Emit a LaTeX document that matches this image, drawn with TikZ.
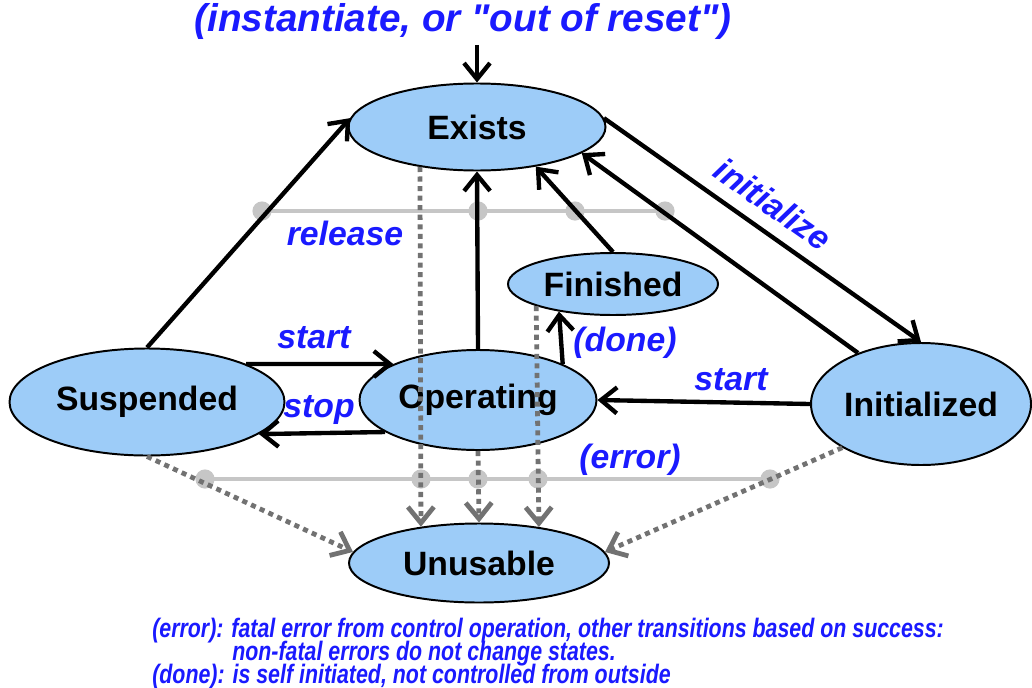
\documentclass[tikz,border=0pt]{standalone}
\usepackage{fontspec}
\setmainfont{Liberation Sans}
\newfontfamily\titlefont[Ligatures=TeXOff]{Liberation Sans}
\newfontfamily\notefont[FakeStretch=0.8]{Liberation Sans}
\newcommand\notestyle{\notefont\fontsize{19}{16.2}\selectfont\lineskiplimit=-20pt\relax\bfseries\itshape}
\usepackage{tikz}
\usetikzlibrary{arrows.meta}
\usetikzlibrary{shapes.geometric}
\definecolor{state-blue}{HTML}{9DCCF8}
\definecolor{label-blue}{HTML}{1A1AFF}
\definecolor{error-grey}{HTML}{727272}
\definecolor{bar-grey}{HTML}{C6C6C6}

\begin{document}
\begin{tikzpicture}[x=0.25mm, y=-0.25mm,
    state/.style={ellipse, draw, line width=1.4pt, fill=state-blue, inner sep=0pt,
                  font=\fontsize{24}{28}\selectfont\bfseries},
    trans/.style={-{Straight Barb[length=4mm, width=6.5mm]}, line width=3.1pt},
    errtrans/.style={-{Straight Barb[length=4mm, width=6.5mm]}, color=error-grey,
                     line width=3.4pt, dash pattern=on 3.6pt off 3.2pt},
    bar/.style={color=bar-grey, line width=3.4pt},
    lbl/.style={color=label-blue, font=\fontsize{24}{28}\selectfont\bfseries\itshape}]

    \useasboundingbox (0,0) rectangle (1032,687);

    % grouping bars
    \draw[bar] (262,211) -- (667,211);
    \foreach \x in {262,478,575,665}
        \fill[bar-grey] (\x,211) circle[radius=2.4mm];
    \draw[bar] (205,479) -- (770,479);
    \foreach \x in {205,421,478,538,770}
        \fill[bar-grey] (\x,479) circle[radius=2.4mm];

    % states
    \node[state, minimum width=64.25mm, minimum height=21.75mm] (exists) at (477,127) {Exists};
    \node[state, minimum width=52.5mm, minimum height=15.5mm] (finished) at (613,284) {Finished};
    \node[state, minimum width=68.75mm, minimum height=26.75mm] (suspended) at (147,402) {Suspended};
    \node[state, minimum width=59.25mm, minimum height=25mm] (operating) at (478,400) {Operating};
    \node[state, minimum width=55mm, minimum height=30.5mm] (initialized) at (921,404) {Initialized};
    \node[state, minimum width=65mm, minimum height=19.75mm] (unusable) at (479,563) {Unusable};

    % title
    \node[color=label-blue, font=\titlefont\fontsize{27.5}{32}\selectfont\bfseries\itshape] (title) at (463,22)
        {(instantiate, or "out of reset")};
    \draw[trans] (exists.north |- title.south) -- (exists.north);

    % transitions
    \draw[trans] (suspended.north) -- (exists.176);
    \draw[trans] (operating.north) -- (exists.south);
    \draw[trans] (finished.north) -- (exists.-34);
    \draw[trans] (exists.4) -- (initialized.north);
    \draw[trans] (initialized.141) -- (exists.-14);
    \draw[trans] (suspended.21) -- (operating.157);
    \draw[trans] (operating.199) -- (suspended.344);
    \draw[trans] (initialized.west) -- (operating.east);
    \draw[trans] (operating.23) -- (finished.207);

    % error transitions
    \draw[errtrans] (exists.215) -- (unusable.148);
    \draw[errtrans] (operating.south) -- (unusable.north);
    \draw[errtrans] (finished.196) -- (unusable.31);
    \draw[errtrans] (suspended.south) -- (unusable.175);
    \draw[errtrans] (initialized.209) -- (unusable.5);

    % labels
    \node[lbl] (release) at (345,233) {release};
    \node[lbl, rotate=-35] (initialize) at (773,204) {initialize};
    \node[lbl] (start1) at (314,338) {start};
    \node[lbl] (stop) at (319,410) {stop};
    \node[lbl] (start2) at (731,380) {start};
    \node[lbl] (done) at (625,343) {(done)};
    \node[lbl] (error) at (630,460) {(error)};

    % notes
    \node[anchor=north west, align=left, inner sep=0pt, color=label-blue, font=\notestyle] (notes) at (152,618) {
        (error): fatal error from control operation, other transitions based on success:\\
        \hspace*{20mm}non-fatal errors do not change states.\\
        (done): is self initiated, not controlled from outside
    };

\end{tikzpicture}
\end{document}
